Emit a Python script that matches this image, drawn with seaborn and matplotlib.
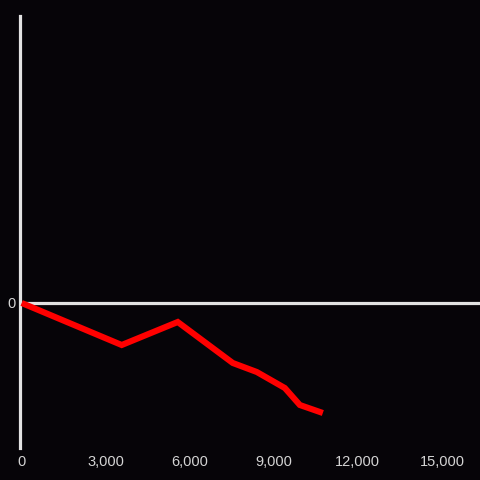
import pandas as pd
import seaborn as sns
import matplotlib.pyplot as plt
from matplotlib.ticker import FuncFormatter

# values
x_vals = [0, 3571, 5571, 7536, 8393, 9393, 9929, 10750]
y_vals = [0, -42, -19, -60, -69, -85, -102, -110]
x_ticks = [0, 3000, 6000, 9000, 12000, 15000]

df = pd.DataFrame({'x': x_vals, 'y': y_vals})

bg = '#060408'
sns.set_style('dark')
plt.rcParams['font.family'] = ['Liberation Sans', 'DejaVu Sans']

fig = plt.figure(figsize=(4.8, 4.8), dpi=100, facecolor=bg)
ax = fig.add_axes([20 / 480, 32 / 480, 460 / 480, 432 / 480])
ax.set_facecolor(bg)

ax.axhline(0, color='#e2e2e2', lw=2.3, zorder=1)
sns.lineplot(data=df, x='x', y='y', color='#ff0000', lw=4.4, ax=ax, zorder=3,
             solid_capstyle='butt', solid_joinstyle='miter')

ax.set_xlim(-60, 16360)
ax.set_ylim(-145, 287)
ax.set_xticks(x_ticks)
ax.xaxis.set_major_formatter(FuncFormatter(lambda v, p: f'{int(v):,}'))
ax.set_yticks([0])
ax.tick_params(length=0, colors='#d4d4d4', labelsize=10.5, pad=5)
ax.tick_params(axis='y', pad=3)
ax.grid(False)
ax.set_xlabel('')
ax.set_ylabel('')

for s in ['top', 'right', 'bottom']:
    ax.spines[s].set_visible(False)
ax.spines['left'].set_color('#e2e2e2')
ax.spines['left'].set_linewidth(2.3)

fig.savefig('out.png', dpi=100, facecolor=bg)
